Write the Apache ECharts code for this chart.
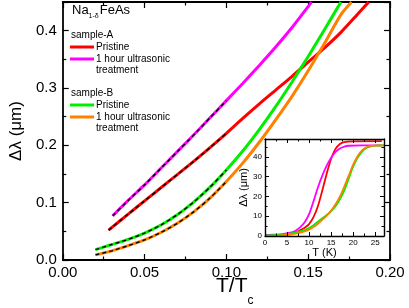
<!DOCTYPE html>
<html>
<head>
<meta charset="utf-8">
<script src="https://cdn.jsdelivr.net/npm/echarts@6/dist/echarts.min.js"></script>
<style>
html,body{margin:0;padding:0;background:#fff;}
#c{width:409px;height:308px;}
</style>
</head>
<body>
<div id="c"></div>
<script>
// ---- Main panel data: [T/Tc, Δλ (μm)] ----
var sampleA_pristine = [[0.028,0.052],[0.04,0.080],[0.05,0.103],[0.06,0.126],[0.07,0.149],[0.08,0.172],[0.09,0.196],[0.10,0.221],[0.11,0.247],[0.12,0.272],[0.13,0.296],[0.14,0.320],[0.15,0.345],[0.16,0.370],[0.17,0.397],[0.18,0.428],[0.187,0.45]];
var sampleA_ultra = [[0.0305,0.077],[0.04,0.104],[0.05,0.131],[0.06,0.160],[0.07,0.189],[0.08,0.218],[0.09,0.248],[0.10,0.278],[0.11,0.308],[0.12,0.339],[0.13,0.371],[0.14,0.405],[0.15,0.442],[0.152,0.45]];
var sampleB_pristine = [[0.02,0.018],[0.03,0.027],[0.04,0.036],[0.05,0.047],[0.06,0.061],[0.07,0.079],[0.08,0.101],[0.09,0.127],[0.10,0.157],[0.11,0.190],[0.12,0.227],[0.13,0.267],[0.14,0.310],[0.15,0.355],[0.16,0.402],[0.17,0.45]];
var sampleB_ultra = [[0.02,0.009],[0.03,0.016],[0.04,0.025],[0.05,0.035],[0.06,0.048],[0.07,0.064],[0.08,0.084],[0.09,0.108],[0.10,0.137],[0.11,0.169],[0.12,0.205],[0.13,0.244],[0.14,0.285],[0.15,0.330],[0.16,0.378],[0.17,0.428],[0.1765,0.45]];
var fitLimit = 0.10; // black dashed fits drawn up to T/Tc = 0.1

// ---- Inset data: [T (K), Δλ (μm)] ----
var insetA_pristine = [[0,0.4],[3,0.6],[5,1.0],[7,2.0],[8,3.0],[9,4.2],[10,6.0],[11,9.5],[12,15],[13,23],[14,31.5],[15,39],[16,44],[17,46.5],[18,47.4],[20,47.8],[26.5,47.9]];
var insetA_ultra = [[0,0.6],[2,0.7],[4,1.0],[6,1.8],[7,2.8],[8,4.5],[9,7],[10,11],[11,17.5],[12,24.5],[13,30.5],[14,35.5],[15,39.5],[16,42.5],[17,44.2],[18,45.2],[19,45.6],[22,45.8],[26.5,45.8]];
var insetB_pristine = [[0,0.3],[3,0.5],[5,0.9],[7,1.8],[9,3.0],[10,4.0],[11,5.5],[12,7.2],[13,9.0],[14,10.6],[15,12.5],[16,15],[17,18.5],[18,23],[19,29],[20,35],[21,39.5],[22,42.5],[23,44.4],[24,45.3],[25,45.7],[27,45.8]];
var insetB_ultra = [[0,0.1],[3,0.2],[5,0.5],[7,1.2],[9,2.3],[10,3.2],[11,4.5],[12,6.2],[13,8.2],[14,10.3],[15,12.8],[16,16],[17,20],[18,25],[19,30.5],[20,36],[21,40.3],[22,43.2],[23,44.8],[24,45.5],[27,45.8]];

var colA1 = '#ff0000', colA2 = '#ff00ff', colB1 = '#00ee00', colB2 = '#ff8000';
var FONT = 'Liberation Sans, Arial, sans-serif';

var chart = echarts.init(document.getElementById('c'), null, {renderer:'canvas'});

function fitPart(d){ return d.filter(function(p){ return p[0] <= fitLimit + 1e-9; }); }

function mainLine(name, data, color){
  return {name:name, type:'line', xAxisIndex:0, yAxisIndex:0, data:data, showSymbol:false, smooth:0.25,
    lineStyle:{color:color, width:3}, itemStyle:{color:color}, z:2, silent:true};
}
function fitLine(name, data){
  return {name:name, type:'line', xAxisIndex:0, yAxisIndex:0, data:fitPart(data), showSymbol:false, smooth:0.25,
    lineStyle:{color:'#000', width:1.4, type:[4,3]}, itemStyle:{color:'#000'}, z:3, silent:true};
}
function insetLine(name, data, color){
  return {name:name, type:'line', xAxisIndex:2, yAxisIndex:2, data:data, showSymbol:false, smooth:0.25,
    lineStyle:{color:color, width:1.8}, itemStyle:{color:color}, z:5, silent:true};
}

var axisLine0 = {show:true, onZero:false, lineStyle:{color:'#000', width:1.8}};
var axisLine1 = {show:true, onZero:false, lineStyle:{color:'#000', width:1.4}};

var option = {
  animation:false,
  backgroundColor:'#fff',
  textStyle:{fontFamily:FONT},
  grid:[
    {left:55, top:2, right:19, bottom:48, containLabel:false},
    {left:265, top:139, right:25, bottom:72, containLabel:false, show:true, backgroundColor:'#fff', borderWidth:0, z:4}
  ],
  xAxis:[
    {gridIndex:0, type:'value', min:0, max:0.2, interval:0.05, position:'bottom', axisLine:axisLine0,
      axisTick:{inside:true, length:6, lineStyle:{color:'#000', width:1.2}},
      minorTick:{show:true, splitNumber:2, length:3.5, lineStyle:{color:'#000', width:1.2}},
      splitLine:{show:false}, minorSplitLine:{show:false},
      axisLabel:{fontSize:15, color:'#000', margin:5, fontFamily:FONT, formatter:function(v){return v.toFixed(2);}}},
    {gridIndex:0, type:'value', min:0, max:0.2, interval:0.05, position:'top', axisLine:axisLine0,
      axisTick:{inside:true, length:6, lineStyle:{color:'#000', width:1.2}},
      minorTick:{show:true, splitNumber:2, length:3.5, lineStyle:{color:'#000', width:1.2}},
      splitLine:{show:false}, axisLabel:{show:false}},
    {gridIndex:1, type:'value', min:0, max:27, interval:5, position:'bottom', axisLine:axisLine1, z:6,
      axisTick:{inside:true, length:4, lineStyle:{color:'#000', width:1}},
      minorTick:{show:true, splitNumber:2, length:2.5, lineStyle:{color:'#000', width:1}},
      splitLine:{show:false},
      axisLabel:{fontSize:8, color:'#000', margin:3, fontFamily:FONT, showMaxLabel:false,
        formatter:function(v){return (v % 5 === 0) ? String(v) : '';}},
      name:'T (K)', nameLocation:'middle', nameGap:8, nameTextStyle:{fontSize:11, color:'#000', fontFamily:FONT}},
    {gridIndex:1, type:'value', min:0, max:27, interval:5, position:'top', axisLine:axisLine1, z:6,
      axisTick:{inside:true, length:4, lineStyle:{color:'#000', width:1}},
      minorTick:{show:true, splitNumber:2, length:2.5, lineStyle:{color:'#000', width:1}},
      splitLine:{show:false}, axisLabel:{show:false}}
  ],
  yAxis:[
    {gridIndex:0, type:'value', min:0, max:0.45, interval:0.1, position:'left', axisLine:axisLine0,
      axisTick:{inside:true, length:6, lineStyle:{color:'#000', width:1.2}},
      minorTick:{show:true, splitNumber:2, length:3.5, lineStyle:{color:'#000', width:1.2}},
      splitLine:{show:false},
      axisLabel:{fontSize:15, color:'#000', margin:6, fontFamily:FONT, showMaxLabel:false,
        formatter:function(v){ return Math.abs(v*10 - Math.round(v*10)) < 1e-6 ? v.toFixed(1) : ''; }},
      name:'\u0394\u03bb (\u03bcm)', nameLocation:'middle', nameGap:35, nameRotate:90,
      nameTextStyle:{fontSize:17, color:'#000', fontFamily:FONT}},
    {gridIndex:0, type:'value', min:0, max:0.45, interval:0.1, position:'right', axisLine:axisLine0,
      axisTick:{inside:true, length:6, lineStyle:{color:'#000', width:1.2}},
      minorTick:{show:true, splitNumber:2, length:3.5, lineStyle:{color:'#000', width:1.2}},
      splitLine:{show:false}, axisLabel:{show:false}},
    {gridIndex:1, type:'value', min:0, max:49, interval:10, position:'left', axisLine:axisLine1, z:6,
      axisTick:{inside:true, length:4, lineStyle:{color:'#000', width:1}},
      minorTick:{show:true, splitNumber:2, length:2.5, lineStyle:{color:'#000', width:1}},
      splitLine:{show:false},
      axisLabel:{fontSize:8, color:'#000', margin:3, fontFamily:FONT, showMaxLabel:false,
        formatter:function(v){return (v % 10 === 0) ? String(v) : '';}},
      name:'\u0394\u03bb (\u03bcm)', nameLocation:'middle', nameGap:12, nameRotate:90,
      nameTextStyle:{fontSize:11, color:'#000', fontFamily:FONT}},
    {gridIndex:1, type:'value', min:0, max:49, interval:10, position:'right', axisLine:axisLine1, z:6,
      axisTick:{inside:true, length:4, lineStyle:{color:'#000', width:1}},
      minorTick:{show:true, splitNumber:2, length:2.5, lineStyle:{color:'#000', width:1}},
      splitLine:{show:false}, axisLabel:{show:false}}
  ],
  graphic:[
    {type:'text', left:55+17, top:4, style:{text:'{a|Na}{s|1-\u03b4}{a|FeAs}', fill:'#000',
      rich:{a:{fontSize:13, fontFamily:FONT, lineHeight:14, verticalAlign:'top'},
            s:{fontSize:7, fontFamily:FONT, lineHeight:7, padding:[9,1,0,0], verticalAlign:'top'}}}},
    {type:'text', x:71, y:35, style:{text:'sample-A', fontSize:10, fontFamily:FONT, fill:'#000', textVerticalAlign:'middle'}},
    {type:'line', shape:{x1:70, y1:47, x2:94, y2:47}, style:{stroke:colA1, lineWidth:3}},
    {type:'text', x:96, y:47, style:{text:'Pristine', fontSize:10, fontFamily:FONT, fill:'#000', textVerticalAlign:'middle'}},
    {type:'line', shape:{x1:70, y1:59, x2:94, y2:59}, style:{stroke:colA2, lineWidth:3}},
    {type:'text', x:96, y:59, style:{text:'1 hour ultrasonic', fontSize:10, fontFamily:FONT, fill:'#000', textVerticalAlign:'middle'}},
    {type:'text', x:96, y:70.5, style:{text:'treatment', fontSize:10, fontFamily:FONT, fill:'#000', textVerticalAlign:'middle'}},
    {type:'text', x:71, y:93.5, style:{text:'sample-B', fontSize:10, fontFamily:FONT, fill:'#000', textVerticalAlign:'middle'}},
    {type:'line', shape:{x1:70, y1:105, x2:94, y2:105}, style:{stroke:colB1, lineWidth:3}},
    {type:'text', x:96, y:105, style:{text:'Pristine', fontSize:10, fontFamily:FONT, fill:'#000', textVerticalAlign:'middle'}},
    {type:'line', shape:{x1:70, y1:117, x2:94, y2:117}, style:{stroke:colB2, lineWidth:3}},
    {type:'text', x:96, y:117, style:{text:'1 hour ultrasonic', fontSize:10, fontFamily:FONT, fill:'#000', textVerticalAlign:'middle'}},
    {type:'text', x:96, y:128.5, style:{text:'treatment', fontSize:10, fontFamily:FONT, fill:'#000', textVerticalAlign:'middle'}},
    {type:'text', x:216, y:276, style:{text:'{a|T/T}{s|c}', fill:'#000',
      rich:{a:{fontSize:21, fontFamily:FONT, lineHeight:21, verticalAlign:'top'},
            s:{fontSize:12, fontFamily:FONT, lineHeight:12, padding:[19,0,0,0], verticalAlign:'top'}}}}
  ],
  series:[
    mainLine('sample-A Pristine', sampleA_pristine, colA1),
    mainLine('sample-A 1 hour ultrasonic treatment', sampleA_ultra, colA2),
    mainLine('sample-B Pristine', sampleB_pristine, colB1),
    mainLine('sample-B 1 hour ultrasonic treatment', sampleB_ultra, colB2),
    fitLine('fit A pristine', sampleA_pristine),
    fitLine('fit A ultrasonic', sampleA_ultra),
    fitLine('fit B pristine', sampleB_pristine),
    fitLine('fit B ultrasonic', sampleB_ultra),
    insetLine('inset A Pristine', insetA_pristine, colA1),
    insetLine('inset A ultrasonic', insetA_ultra, colA2),
    insetLine('inset B Pristine', insetB_pristine, colB1),
    insetLine('inset B ultrasonic', insetB_ultra, colB2)
  ]
};
chart.setOption(option);
</script>
</body>
</html>
